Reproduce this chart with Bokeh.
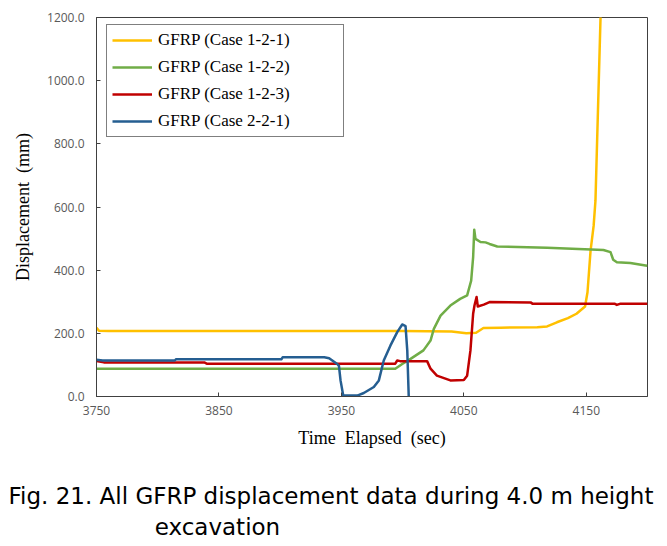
from bokeh.plotting import figure
from bokeh.models import Range1d, FixedTicker, NumeralTickFormatter, Legend, LegendItem, Title
from bokeh.embed import file_html
from bokeh.resources import INLINE

# ---- data ----
t_121 = [3750, 3752, 3760, 3900, 4000, 4040, 4052, 4060, 4066, 4080, 4110, 4118, 4126, 4135, 4142, 4149, 4151, 4153.5, 4156, 4157.5, 4159.5, 4162]
v_121 = [218, 208, 207, 207, 207, 206, 200, 202, 217, 218, 219, 222, 235, 248, 262, 285, 330, 462, 540, 620, 900, 1250]

t_122 = [3750, 3900, 3994, 3999.7, 4006.5, 4017, 4022.8, 4025.5, 4031, 4039, 4047, 4052.7, 4056, 4057.6, 4058.5, 4059.5, 4063.6, 4067.7, 4071, 4077.3, 4118, 4164, 4169.8, 4172, 4175, 4186, 4198.4, 4200]
v_122 = [88, 88, 88, 103, 119, 146, 177, 214, 256, 288, 309, 320, 367, 441, 528, 499, 489, 488, 483, 475, 471, 464, 457, 433, 425, 423, 415, 414]

t_123 = [3750, 3756, 3838, 3840, 3994, 3995.6, 3998, 4020, 4022.8, 4028, 4039, 4050, 4052.7, 4055.4, 4057.6, 4058.7, 4060.4, 4061.4, 4066.3, 4071, 4104.5, 4106, 4173, 4175, 4178, 4200]
v_123 = [112, 108, 108, 104, 104, 114, 112, 112, 88, 66, 51, 52, 66, 146, 262, 288, 315, 285, 291, 299, 298, 294, 294, 290, 294, 294]

t_221 = [3750, 3755, 3814, 3815, 3901, 3902, 3936, 3940, 3944, 3946.6, 3948, 3949.3, 3951.5, 3963, 3968.3, 3976.5, 3980.6, 3984.6, 3990, 3995.6, 3999.7, 4002.4, 4003.8, 4005, 4006]
v_221 = [116, 114, 114, 118, 118, 124, 124, 121, 110, 103, 97, 51, 3, 3, 11, 30, 51, 114, 161, 204, 228, 223, 146, 0, -50]

series_names = ["GFRP (Case 1-2-1)", "GFRP (Case 1-2-2)", "GFRP (Case 1-2-3)", "GFRP (Case 2-2-1)"]
series_colors = ["#FFC000", "#70AD47", "#C00000", "#255E91"]

x_ticks = [3750, 3850, 3950, 4050, 4150]
y_ticks = [0, 200, 400, 600, 800, 1000, 1200]

caption_line1 = "Fig. 21. All GFRP displacement data during 4.0 m height"
caption_line2 = "excavation"

# ---- figure ----
p = figure(width=667, height=546, output_backend="svg", toolbar_location=None,
           x_range=Range1d(3750, 4200), y_range=Range1d(0, 1200),
           min_border_left=96, min_border_right=20, min_border_top=17, min_border_bottom=150)
p.background_fill_color = "white"
p.border_fill_color = "white"
p.grid.visible = False
p.outline_line_color = "#404040"
p.outline_line_width = 1

tick_font = "Open Sans"
for ax in (p.xaxis[0], p.yaxis[0]):
    ax.axis_line_color = "#404040"
    ax.axis_line_width = 1
    ax.major_tick_in = 4
    ax.major_tick_out = 0
    ax.major_tick_line_color = "#404040"
    ax.minor_tick_line_color = None
    ax.major_label_text_font = tick_font
    ax.major_label_text_font_size = "12px"
    ax.major_label_text_color = "#595959"
    ax.axis_label_text_font = "Liberation Serif"
    ax.axis_label_text_font_size = "18px"
    ax.axis_label_text_font_style = "normal"
    ax.axis_label_text_color = "#000000"

p.xaxis.ticker = FixedTicker(ticks=x_ticks)
p.yaxis.ticker = FixedTicker(ticks=y_ticks)
p.yaxis.formatter = NumeralTickFormatter(format="0.0")
p.xaxis.axis_label = "Time\u00a0\u00a0Elapsed\u00a0\u00a0(sec)"
p.yaxis.axis_label = "Displacement\u00a0\u00a0(mm)"
p.xaxis.major_label_standoff = 9
p.yaxis.major_label_standoff = 12
p.xaxis.axis_label_standoff = 10
p.yaxis.axis_label_standoff = 11

renderers = []
for t, v, c in zip([t_121, t_122, t_123, t_221], [v_121, v_122, v_123, v_221], series_colors):
    r = p.line(t, v, line_color=c, line_width=2.5, line_join="round")
    renderers.append(r)

legend = Legend(items=[LegendItem(label=n, renderers=[r]) for n, r in zip(series_names, renderers)],
                location=(10, 259))
legend.label_text_font = "Liberation Serif"
legend.label_text_font_size = "17px"
legend.label_text_color = "#000000"
legend.glyph_width = 40
legend.glyph_height = 20
legend.label_height = 20
legend.label_width = 180
legend.label_standoff = 6
legend.spacing = 7
legend.padding = 5
legend.border_line_color = "#000000"
legend.border_line_width = 1.5
legend.background_fill_alpha = 1
p.add_layout(legend, "center")

spacer = Title(text=" ", standoff=24, text_font_size="1px")
p.add_layout(spacer, "below")
caption = Title(text=caption_line1 + "\n" + "\u00a0" * 20 + caption_line2,
                align="left", offset=-88, standoff=6, text_line_height=1.23,
                text_font="DejaVu Sans", text_font_size="23px", text_font_style="normal", text_color="#000000")
p.add_layout(caption, "below")

open("out.html", "w").write(file_html(p, INLINE))
